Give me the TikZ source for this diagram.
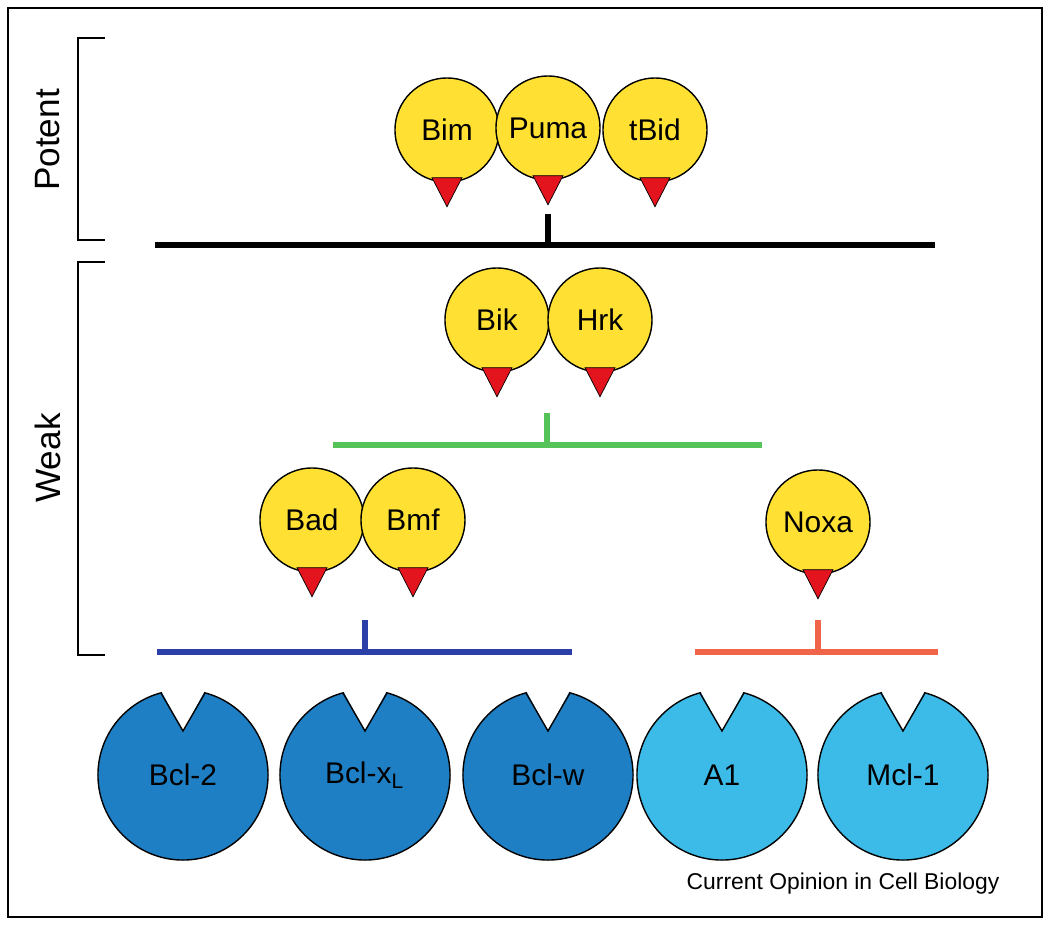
\documentclass[tikz,border=0pt]{standalone}
\usepackage{fontspec}
\setmainfont{Liberation Sans}
\usetikzlibrary{calc}

\definecolor{ballyellow}{HTML}{FFE033}
\definecolor{tipred}{HTML}{E3141E}
\definecolor{bcldark}{HTML}{1F7FC4}
\definecolor{bcllight}{HTML}{3DBBE8}
\definecolor{linegreen}{HTML}{55C25A}
\definecolor{lineblue}{HTML}{2A3FA8}
\definecolor{linered}{HTML}{F0644A}

\tikzset{
    bh3/.style={circle, draw, fill=ballyellow, minimum size=1.04cm, inner sep=0pt, font=\fontsize{8.5}{10}\selectfont},
    pac/.style={circle, draw, minimum size=1.7cm, inner sep=0pt, font=\fontsize{8.5}{10}\selectfont},
    tip/.style={fill=tipred, draw=black, line width=0.2pt},
    bar/.style={line width=1.6pt},
    brace/.style={line width=0.5pt}
}

\newcommand{\tipat}[1]{%
    \draw[tip] ($(#1.south)+(-15,-5)$) -- ($(#1.south)+(15,-5)$) -- ($(#1.south)+(0,24)$) -- cycle;}
\newcommand{\notchat}[1]{%
    \fill[white] ($(#1.center)+(-26,-92)$) -- ($(#1.center)+(26,-92)$) -- ($(#1.center)+(0,-44)$) -- cycle;
    \draw ($(#1.center)+(-22,-82)$) -- ($(#1.center)+(0,-44)$) -- ($(#1.center)+(22,-82)$);}

\begin{document}
\begin{tikzpicture}[x=0.01cm, y=-0.01cm]
    \useasboundingbox (0,0) rectangle (1050,927);
    \draw[line width=0.6pt] (8,8) rectangle (1042,917);

    % potent
    \node[bh3] (bim) at (447,130) {Bim};
    \node[bh3] (tbid) at (655,130) {tBid};
    \node[bh3] (puma) at (548,128) {Puma};
    \tipat{bim} \tipat{puma} \tipat{tbid}

    \coordinate (pl) at (155,245);
    \coordinate (pr) at (935,245);
    \draw[bar] (pl) -- (pr);
    \draw[bar] ($(puma.south)+(0,33)$) -- ($(puma)+(0,117)$);

    % weak
    \node[bh3] (bik) at (497,320) {Bik};
    \node[bh3] (hrk) at (600,320) {Hrk};
    \tipat{bik} \tipat{hrk}
    \coordinate (gl) at (333,445);
    \coordinate (gr) at (762,445);
    \draw[bar, draw=linegreen] (gl) -- (gr);
    \draw[bar, draw=linegreen] (547,413) -- (547,445);

    \node[bh3] (bad) at (312,520) {Bad};
    \node[bh3] (bmf) at (413,520) {Bmf};
    \node[bh3] (noxa) at (818,522) {Noxa};
    \tipat{bad} \tipat{bmf} \tipat{noxa}

    \coordinate (bl) at (157,652);
    \coordinate (br) at (572,652);
    \draw[bar, draw=lineblue] (bl) -- (br);
    \draw[bar, draw=lineblue] (365,620) -- (365,652);
    \coordinate (rl) at (695,652);
    \coordinate (rr) at (938,652);
    \draw[bar, draw=linered] (rl) -- (rr);
    \draw[bar, draw=linered] (818,620) -- (818,652);

    % brackets
    \draw[brace] (105,38) -- (78,38) -- (78,240) -- (105,240);
    \draw[brace] (105,262) -- (78,262) -- (78,655) -- (105,655);
    \node[rotate=90, font=\fontsize{10}{12}\selectfont] (potent) at (48,140) {Potent};
    \node[rotate=90, font=\fontsize{10}{12}\selectfont] (weak) at (48,458) {Weak};

    % bcl-2 family
    \node[pac, fill=bcldark] (bcl2) at (183,775) {Bcl-2};
    \node[pac, fill=bcldark] (bclxl) at (365,775) {Bcl-x\textsubscript{L}};
    \node[pac, fill=bcldark] (bclw) at (548,775) {Bcl-w};
    \node[pac, fill=bcllight] (a1) at (722,775) {A1};
    \node[pac, fill=bcllight] (mcl1) at (903,775) {Mcl-1};
    \foreach \p in {bcl2, bclxl, bclw, a1, mcl1} {\notchat{\p}}

    \node[font=\fontsize{6.5}{8}\selectfont] (credit) at (843,884) {Current Opinion in Cell Biology};
\end{tikzpicture}
\end{document}
